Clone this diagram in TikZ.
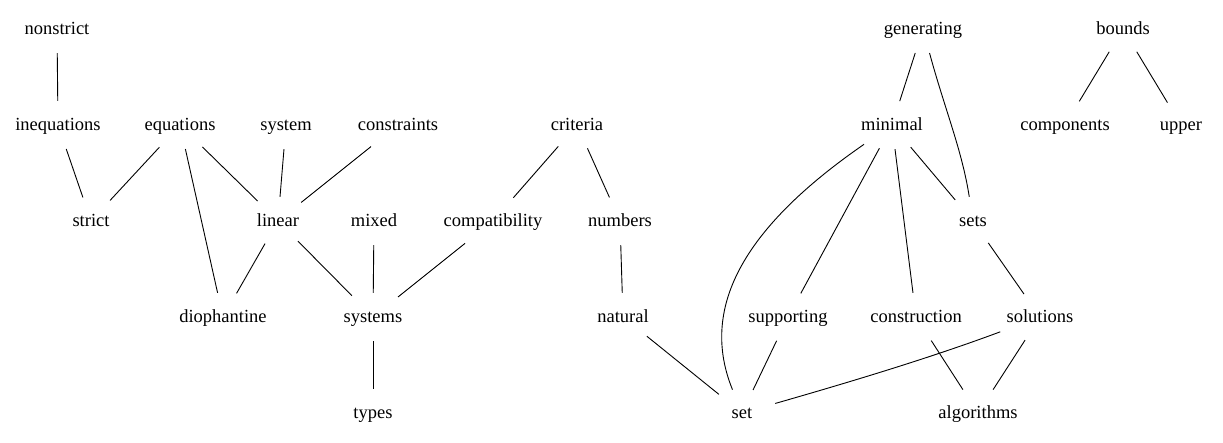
\documentclass[tikz,border=0pt]{standalone}
\usepackage{fontspec}
\setmainfont{Liberation Serif}
\usetikzlibrary{shapes.geometric}
\begin{document}
\begin{tikzpicture}[x=1pt,y=-1pt,
  word/.style={ellipse,draw=none,inner xsep=2pt,inner ysep=7pt,text height=14.5pt,text depth=3.5pt,
    minimum height=48pt,minimum width=72pt,font=\fontsize{18.5}{20}\selectfont},
  link/.style={draw,line width=0.9pt}]
\useasboundingbox (0,0) rectangle (1223,443);
% row 1
\node[word] (nonstrict) at (57,29) {nonstrict};
\node[word] (generating) at (923,29) {generating};
\node[word] (bounds) at (1123,29) {bounds};
% row 2
\node[word] (inequations) at (58,125) {inequations};
\node[word] (equations) at (180,125) {equations};
\node[word] (system) at (286,125) {system};
\node[word] (constraints) at (398,125) {constraints};
\node[word] (criteria) at (577,125) {criteria};
\node[word] (minimal) at (892,125) {minimal};
\node[word] (components) at (1065,125) {components};
\node[word] (upper) at (1181,125) {upper};
% row 3
\node[word] (strict) at (91,221) {strict};
\node[word] (linear) at (278,221) {linear};
\node[word] (mixed) at (374,221) {mixed};
\node[word] (compatibility) at (493,221) {compatibility};
\node[word] (numbers) at (620,221) {numbers};
\node[word] (sets) at (973,221) {sets};
% row 4
\node[word] (diophantine) at (223,317) {diophantine};
\node[word] (systems) at (373,317) {systems};
\node[word] (natural) at (623,317) {natural};
\node[word] (supporting) at (788,317) {supporting};
\node[word] (construction) at (916,317) {construction};
\node[word] (solutions) at (1040,317) {solutions};
% row 5
\node[word] (types) at (373,413) {types};
\node[word] (set) at (742,413) {set};
\node[word] (algorithms) at (978,413) {algorithms};
% edges
\draw[link] (nonstrict) -- (inequations);
\draw[link] (inequations) -- (strict);
\draw[link] (equations) -- (strict);
\draw[link] (equations) -- (diophantine);
\draw[link] (equations) -- (linear);
\draw[link] (system) -- (linear);
\draw[link] (constraints) -- (linear);
\draw[link] (linear) -- (diophantine);
\draw[link] (linear) -- (systems);
\draw[link] (mixed) -- (systems);
\draw[link] (compatibility) -- (systems);
\draw[link] (systems) -- (types);
\draw[link] (criteria) -- (compatibility);
\draw[link] (criteria) -- (numbers);
\draw[link] (numbers) -- (natural);
\draw[link] (natural) -- (set);
\draw[link] (generating) -- (minimal);
\draw[link] (generating) .. controls (945,110) and (962,150) .. (sets);
\draw[link] (bounds) -- (components);
\draw[link] (bounds) -- (upper);
\draw[link] (minimal) .. controls (740,230) and (700,310) .. (set);
\draw[link] (minimal) -- (supporting);
\draw[link] (minimal) -- (construction);
\draw[link] (minimal) -- (sets);
\draw[link] (sets) -- (solutions);
\draw[link] (supporting) -- (set);
\draw[link] (solutions) .. controls (930,358) and (850,382) .. (set);
\draw[link] (solutions) -- (algorithms);
\draw[link] (construction) -- (algorithms);
\end{tikzpicture}
\end{document}
